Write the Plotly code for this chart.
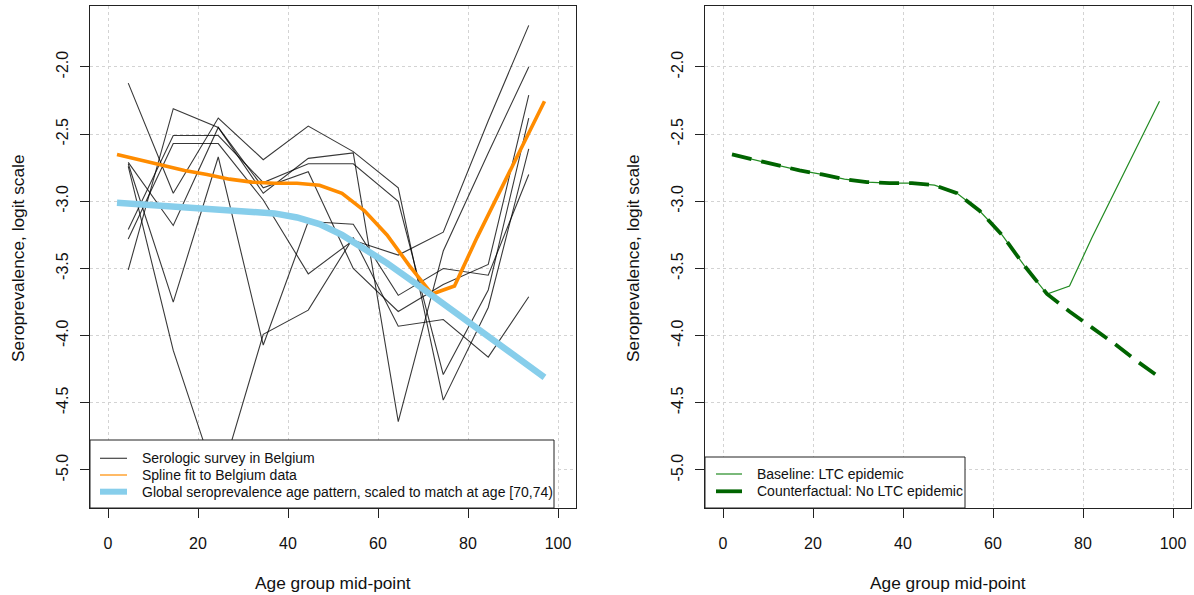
import plotly.graph_objects as go

# ---------------- data ----------------
age_10yr = [4.5, 14.5, 24.5, 34.5, 44.5, 54.5, 64.5, 74.5, 84.5, 93.5]
survey_1 = [-2.12, -2.94, -2.38, -2.69, -2.44, -2.63, -2.90, -4.48, -3.79, -2.61]
survey_2 = [-2.71, -3.18, -2.45, -2.90, -2.78, -3.50, -3.82, -3.62, -3.47, -2.21]
survey_3 = [-2.74, -4.11, -5.12, -3.99, -3.81, -3.27, -3.93, -3.88, -4.16, -3.71]
survey_4 = [-3.21, -2.51, -2.51, -2.86, -2.72, -2.72, -3.00, -4.29, -3.66, -2.38]
survey_5 = [-3.28, -2.57, -2.57, -2.99, -3.54, -3.29, -3.40, -3.23, -2.40, -1.69]
survey_6 = [-3.51, -2.31, -2.45, -2.94, -2.68, -2.64, -4.64, -3.37, -2.64, -2.00]
survey_7 = [-2.72, -3.75, -2.67, -4.07, -3.15, -3.17, -3.70, -3.50, -3.55, -2.80]
surveys = [survey_1, survey_2, survey_3, survey_4, survey_5, survey_6, survey_7]

age_5yr = [2, 7, 12, 17, 22, 27, 32, 37, 42, 47, 52, 57, 62, 67, 72, 77, 82, 87, 92, 97]
spline_fit = [-2.651, -2.69, -2.73, -2.77, -2.80, -2.835, -2.857, -2.865, -2.865, -2.88,
              -2.94, -3.07, -3.25, -3.48, -3.69, -3.63, -3.27, -2.93, -2.59, -2.255]
global_pattern = [-3.01, -3.02, -3.03, -3.04, -3.05, -3.06, -3.075, -3.09, -3.12, -3.17,
                  -3.25, -3.35, -3.46, -3.58, -3.70, -3.82, -3.94, -4.06, -4.19, -4.31]
baseline = spline_fit
counterfactual = [-2.651, -2.69, -2.73, -2.77, -2.80, -2.835, -2.857, -2.865, -2.865, -2.88,
                  -2.94, -3.07, -3.25, -3.48, -3.69, -3.82, -3.94, -4.06, -4.19, -4.31]

x_ticks = [0, 20, 40, 60, 80, 100]
y_ticks = [-2.0, -2.5, -3.0, -3.5, -4.0, -4.5, -5.0]
y_ticktext = ["-2.0", "-2.5", "-3.0", "-3.5", "-4.0", "-4.5", "-5.0"]

# ---------------- figure ----------------
W, H = 1194, 595
FONT = "Liberation Sans, Arial, Helvetica, sans-serif"


def fx(p):
    return p / W


def fy(p):
    return 1 - p / H


fig = go.Figure()
for s in surveys:
    fig.add_trace(go.Scatter(x=age_10yr, y=s, mode="lines",
                             line=dict(color="rgba(0,0,0,0.78)", width=1.1),
                             xaxis="x", yaxis="y", showlegend=False, hoverinfo="skip"))
fig.add_trace(go.Scatter(x=age_5yr, y=spline_fit, mode="lines",
                         line=dict(color="#FF8C00", width=3.6),
                         xaxis="x", yaxis="y", showlegend=False))
fig.add_trace(go.Scatter(x=age_5yr, y=global_pattern, mode="lines",
                         line=dict(color="#87CEEB", width=6.5),
                         xaxis="x", yaxis="y", showlegend=False))
fig.add_trace(go.Scatter(x=age_5yr, y=baseline, mode="lines",
                         line=dict(color="#228B22", width=1.2),
                         xaxis="x2", yaxis="y2", showlegend=False))
fig.add_trace(go.Scatter(x=age_5yr, y=counterfactual, mode="lines",
                         line=dict(color="#006400", width=3.8, dash="20px,10px"),
                         xaxis="x2", yaxis="y2", showlegend=False))

axis_common = dict(showline=True, mirror=True, linecolor="#222", linewidth=1,
                   ticks="outside", ticklen=9, tickcolor="#222", tickwidth=1,
                   showgrid=True, gridcolor="#d3d3d3", griddash="dot", gridwidth=1,
                   zeroline=False, tickfont=dict(family=FONT, size=16, color="#111"))
xr = [-4, 104]
yr = [-5.283, -1.546]
ydom = [fy(508), fy(6)]
fig.update_layout(
    width=W, height=H, margin=dict(l=0, r=0, t=0, b=0),
    paper_bgcolor="white", plot_bgcolor="white", showlegend=False,
    xaxis=dict(domain=[fx(90), fx(576)], range=xr, tickvals=x_ticks, anchor="y",
               ticklabelstandoff=12, **axis_common),
    yaxis=dict(domain=ydom, range=yr, tickvals=y_ticks, ticktext=y_ticktext, anchor="x",
               tickangle=-90, ticklabelstandoff=6, **axis_common),
    xaxis2=dict(domain=[fx(705), fx(1191)], range=xr, tickvals=x_ticks, anchor="y2",
                ticklabelstandoff=12, **axis_common),
    yaxis2=dict(domain=ydom, range=yr, tickvals=y_ticks, ticktext=y_ticktext, anchor="x2",
                tickangle=-90, ticklabelstandoff=6, **axis_common),
)

shapes = []
annotations = []

# axis titles
for cx, cyt in [((90 + 576) / 2, 18), ((705 + 1191) / 2, 633)]:
    annotations.append(dict(text="Age group mid-point", x=fx(cx), y=fy(583), xref="paper", yref="paper",
                            showarrow=False, xanchor="center", yanchor="middle",
                            font=dict(family=FONT, size=17.3, color="#111")))
    annotations.append(dict(text="Seroprevalence, logit scale", x=fx(cyt), y=fy(258), xref="paper",
                            yref="paper", showarrow=False, textangle=-90, xanchor="center",
                            yanchor="middle", font=dict(family=FONT, size=17.3, color="#111")))

# left legend
shapes.append(dict(type="rect", xref="paper", yref="paper", x0=fx(90), x1=fx(554), y0=fy(508), y1=fy(440),
                   fillcolor="white", line=dict(color="#222", width=1), layer="above"))
left_items = [("Serologic survey in Belgium", "#444", 1.2),
              ("Spline fit to Belgium data", "#FF8C00", 1.2),
              ("Global seroprevalence age pattern, scaled to match at age [70,74)", "#87CEEB", 6)]
for (txt, col, w), ry in zip(left_items, [458.3, 475, 491.7]):
    shapes.append(dict(type="line", xref="paper", yref="paper", x0=fx(100), x1=fx(127), y0=fy(ry), y1=fy(ry),
                       line=dict(color=col, width=w), layer="above"))
    annotations.append(dict(text=txt, x=fx(140), y=fy(ry), xref="paper", yref="paper", showarrow=False,
                            xanchor="left", yanchor="middle", font=dict(family=FONT, size=14, color="#111")))

# right legend
shapes.append(dict(type="rect", xref="paper", yref="paper", x0=fx(705), x1=fx(965), y0=fy(508), y1=fy(457),
                   fillcolor="white", line=dict(color="#222", width=1), layer="above"))
right_items = [("Baseline: LTC epidemic", "#228B22", 1.2),
               ("Counterfactual: No LTC epidemic", "#006400", 3.8)]
for (txt, col, w), ry in zip(right_items, [474, 491.3]):
    shapes.append(dict(type="line", xref="paper", yref="paper", x0=fx(716), x1=fx(742), y0=fy(ry), y1=fy(ry),
                       line=dict(color=col, width=w), layer="above"))
    annotations.append(dict(text=txt, x=fx(755), y=fy(ry), xref="paper", yref="paper", showarrow=False,
                            xanchor="left", yanchor="middle", font=dict(family=FONT, size=14, color="#111")))

fig.update_layout(shapes=shapes, annotations=annotations)
fig.write_html("out.html")
